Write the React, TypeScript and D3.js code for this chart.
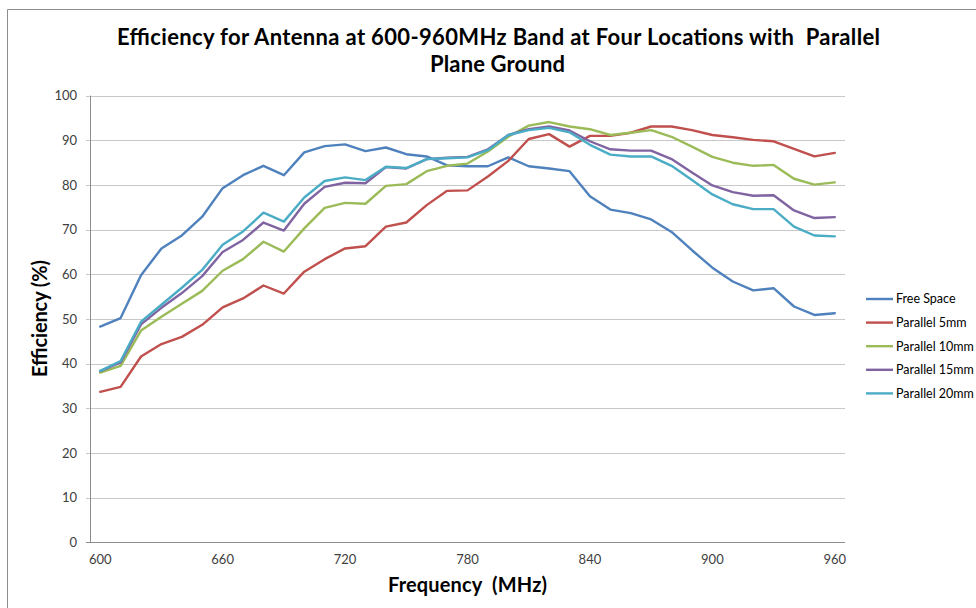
import React from "react";
import * as d3 from "d3";

const frequencies: number[] = d3.range(600, 961, 10);
const xTickLabels: number[] = [600, 660, 720, 780, 840, 900, 960];
const yTicks: number[] = [0, 10, 20, 30, 40, 50, 60, 70, 80, 90, 100];

const seriesNames: string[] = ["Free Space", "Parallel 5mm", "Parallel 10mm", "Parallel 15mm", "Parallel 20mm"];
const seriesColors: string[] = ["#4F81BD", "#C0504D", "#9BBB59", "#8064A2", "#4BACC6"];

const freeSpace: number[] = [
  48.3, 50.2, 59.8, 65.8, 68.7, 72.9, 79.3, 82.2, 84.3, 82.2, 87.3, 88.7, 89.1,
  87.6, 88.4, 86.9, 86.4, 84.4, 84.2, 84.2, 86.2, 84.2, 83.7, 83.1, 77.5,
  74.5, 73.7, 72.3, 69.5, 65.4, 61.5, 58.4, 56.4, 56.9, 52.8, 50.9, 51.3,
];
const parallel5: number[] = [
  33.7, 34.8, 41.6, 44.4, 46.0, 48.7, 52.6, 54.6, 57.5, 55.7, 60.6, 63.4, 65.8,
  66.3, 70.7, 71.6, 75.5, 78.7, 78.8, 81.9, 85.4, 90.3, 91.4, 88.6, 91.0,
  91.0, 91.7, 93.1, 93.1, 92.3, 91.2, 90.7, 90.1, 89.8, 88.1, 86.4, 87.2,
];
const parallel10: number[] = [
  38.0, 39.5, 47.4, 50.5, 53.4, 56.3, 60.8, 63.4, 67.3, 65.1, 70.3, 74.9, 76.0,
  75.8, 79.8, 80.2, 83.1, 84.3, 84.8, 87.5, 90.8, 93.3, 94.1, 93.1, 92.5,
  91.2, 91.7, 92.3, 90.8, 88.6, 86.3, 85.0, 84.3, 84.5, 81.4, 80.1, 80.6,
];
const parallel15: number[] = [
  38.3, 40.3, 48.8, 52.5, 55.8, 59.6, 65.0, 67.7, 71.6, 69.8, 75.8, 79.6, 80.5,
  80.4, 84.0, 83.7, 85.8, 86.1, 86.3, 88.0, 91.2, 92.5, 93.1, 92.2, 89.8,
  88.0, 87.7, 87.7, 85.8, 82.8, 79.9, 78.4, 77.6, 77.7, 74.3, 72.6, 72.8,
];
const parallel20: number[] = [
  38.4, 40.6, 49.4, 53.2, 57.0, 61.0, 66.6, 69.6, 73.8, 71.8, 77.2, 80.9, 81.7,
  81.1, 84.1, 83.8, 85.8, 86.0, 86.2, 87.8, 91.2, 92.3, 92.8, 91.8, 89.0,
  86.8, 86.4, 86.4, 84.3, 81.1, 77.9, 75.7, 74.6, 74.6, 70.7, 68.7, 68.5,
];

const seriesValues: number[][] = [freeSpace, parallel5, parallel10, parallel15, parallel20];

const titleLine1 = "Efficiency for Antenna at 600-960MHz Band at Four Locations with  Parallel";
const titleLine2 = "Plane Ground";
const xTitle = "Frequency  (MHz)";
const yTitle = "Efficiency (%)";

const W = 976;
const H = 608;
const plotLeft = 90;
const plotRight = 845;
const plotTop = 95.7;
const plotBottom = 542.3;

export default function App() {
  const x = d3.scalePoint<number>().domain(frequencies).range([plotLeft, plotRight]).padding(0.5);
  const y = d3.scaleLinear().domain([0, 100]).range([plotBottom, plotTop]);
  const line = d3
    .line<number>()
    .x((_, i) => x(frequencies[i]) as number)
    .y((d) => y(d));

  const font = "Lato, 'Open Sans', sans-serif";

  return (
    <svg
      width={W}
      height={H}
      style={{ position: "absolute", left: 0, top: 0, background: "#fff" }}
    >
      <rect x={0} y={0} width={W} height={H} fill="#fff" />
      <line x1={7.5} y1={9.5} x2={W} y2={9.5} stroke="#8c8c8c" strokeWidth={1} />
      <line x1={7.5} y1={9.5} x2={7.5} y2={H} stroke="#8c8c8c" strokeWidth={1} />

      <text
        x={498.5}
        y={45}
        textAnchor="middle"
        fontFamily={font}
        fontWeight="bold"
        fontSize={22}
        fill="#000"
        textLength={763}
        style={{ whiteSpace: "pre" }}
      >
        {titleLine1}
      </text>
      <text
        x={497.5}
        y={72}
        textAnchor="middle"
        fontFamily={font}
        fontWeight="bold"
        fontSize={22}
        fill="#000"
        textLength={135}
      >
        {titleLine2}
      </text>

      {yTicks.map((t) => (
        <g key={t}>
          <line
            x1={plotLeft - 4}
            x2={plotRight}
            y1={Math.round(y(t)) + 0.5}
            y2={Math.round(y(t)) + 0.5}
            stroke={t === 0 ? "#8c8c8c" : "#c8c8c8"}
            strokeWidth={1}
          />
          <text
            x={77}
            y={y(t)}
            dy="0.35em"
            textAnchor="end"
            fontFamily={font}
            fontSize={13}
            fill="#404040"
          >
            {t}
          </text>
        </g>
      ))}
      <line x1={plotLeft + 0.5} x2={plotLeft + 0.5} y1={plotTop} y2={plotBottom} stroke="#8c8c8c" strokeWidth={1} />

      {xTickLabels.map((f) => (
        <text
          key={f}
          x={x(f) as number}
          y={564}
          textAnchor="middle"
          fontFamily={font}
          fontSize={13}
          fill="#404040"
        >
          {f}
        </text>
      ))}

      <text
        transform={`translate(47,318.5) rotate(-90)`}
        textAnchor="middle"
        fontFamily={font}
        fontWeight="bold"
        fontSize={20}
        fill="#000"
        textLength={117}
      >
        {yTitle}
      </text>
      <text
        x={467.5}
        y={592}
        textAnchor="middle"
        fontFamily={font}
        fontWeight="bold"
        fontSize={20}
        fill="#000"
        textLength={159}
        style={{ whiteSpace: "pre" }}
      >
        {xTitle}
      </text>

      {seriesValues.map((vals, si) => (
        <path
          key={seriesNames[si]}
          d={line(vals) || ""}
          fill="none"
          stroke={seriesColors[si]}
          strokeWidth={2.4}
          strokeLinejoin="round"
          strokeLinecap="round"
        />
      ))}

      {seriesNames.map((name, si) => {
        const ly = 299 + si * 23.6;
        return (
          <g key={name}>
            <line x1={866} x2={893} y1={ly} y2={ly} stroke={seriesColors[si]} strokeWidth={2.4} />
            <text x={896} y={ly} dy="0.35em" fontFamily={font} fontSize={12.5} fill="#000">
              {name}
            </text>
          </g>
        );
      })}
    </svg>
  );
}
